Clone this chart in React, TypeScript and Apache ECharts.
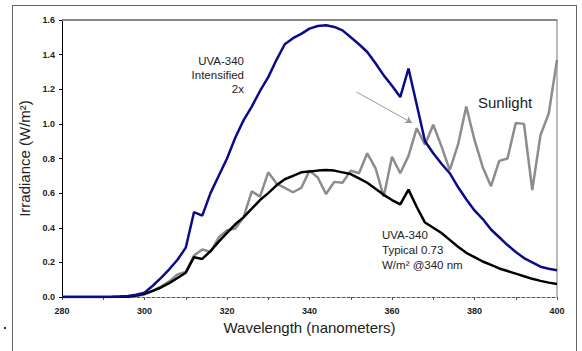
import React, { useEffect, useRef } from "react";
import * as echarts from "echarts";

const wavelengths = [
  280, 282, 284, 286, 288, 290, 292, 294, 296, 298, 300, 302, 304, 306, 308, 310,
  312, 314, 316, 318, 320, 322, 324, 326, 328, 330, 332, 334, 336, 338, 340, 342,
  344, 346, 348, 350, 352, 354, 356, 358, 360, 362, 364, 366, 368, 370, 372, 374,
  376, 378, 380, 382, 384, 386, 388, 390, 392, 394, 396, 398, 400,
];

const intensified = [
  0, 0, 0, 0, 0, 0, 0.001, 0.003, 0.006, 0.013, 0.025, 0.065, 0.11, 0.16, 0.215, 0.285,
  0.49, 0.47, 0.6, 0.7, 0.8, 0.92, 1.02, 1.1, 1.19, 1.27, 1.37, 1.46, 1.495, 1.52, 1.55, 1.565,
  1.57, 1.56, 1.54, 1.5, 1.46, 1.415, 1.35, 1.28, 1.22, 1.155, 1.32, 1.11, 0.9, 0.83, 0.77, 0.715,
  0.635, 0.565, 0.5, 0.45, 0.39, 0.345, 0.3, 0.26, 0.225, 0.2, 0.175, 0.163, 0.155,
];

const typical = [
  0, 0, 0, 0, 0, 0, 0, 0.001, 0.002, 0.008, 0.018, 0.035, 0.055, 0.08, 0.11, 0.14,
  0.23, 0.22, 0.265, 0.32, 0.37, 0.42, 0.46, 0.51, 0.56, 0.6, 0.645, 0.68, 0.7, 0.72, 0.725, 0.73,
  0.733, 0.73, 0.72, 0.71, 0.685, 0.66, 0.625, 0.59, 0.56, 0.535, 0.62, 0.52, 0.43, 0.4, 0.37, 0.33,
  0.29, 0.255, 0.23, 0.205, 0.185, 0.165, 0.15, 0.135, 0.12, 0.105, 0.093, 0.083, 0.075,
];

const sunlight = [
  null, null, null, null, null, null, null, null, 0, 0.005, 0.015, 0.035, 0.06, 0.09, 0.13, 0.145,
  0.24, 0.275, 0.26, 0.345, 0.385, 0.395, 0.46, 0.61, 0.58, 0.72, 0.655, 0.63, 0.605, 0.63, 0.73, 0.69,
  0.595, 0.665, 0.66, 0.73, 0.715, 0.83, 0.745, 0.58, 0.81, 0.715, 0.815, 0.975, 0.88, 0.995, 0.87, 0.733,
  0.88, 1.1, 0.907, 0.75, 0.64, 0.786, 0.8, 1.005, 1.0, 0.618, 0.935, 1.06, 1.37,
];

const arrowStart = [351.4, 1.184];
const arrowEnd = [364.9, 1.005];

const FONT = 'Arial, "Liberation Sans", sans-serif';
const TEXT = "#222";

function pairs(vals: (number | null)[]) {
  return wavelengths.map((w, i) => [w, vals[i]]);
}

function frameLine(x1: number, y1: number, x2: number, y2: number, stroke: string, w: number) {
  return {
    type: "line",
    shape: { x1, y1, x2, y2 },
    style: { stroke, lineWidth: w },
    silent: true,
    z: 100,
  };
}

export default function App() {
  const ref = useRef<HTMLDivElement>(null);
  useEffect(() => {
    if (!ref.current) return;
    const chart = echarts.init(ref.current, null, { renderer: "svg" });
    chart.setOption({
      animation: false,
      backgroundColor: "#fff",
      textStyle: { fontFamily: FONT },
      grid: { left: 62, right: 25, top: 20, bottom: 54 },
      xAxis: [
        {
          type: "value",
          min: 280,
          max: 400,
          interval: 10,
          name: "Wavelength (nanometers)",
          nameLocation: "middle",
          nameGap: 19,
          nameTextStyle: { fontSize: 15, color: TEXT, fontFamily: FONT },
          axisLine: { show: true, onZero: false, lineStyle: { color: "#555", type: [3, 2], width: 1 } },
          axisTick: { show: true, length: 3, lineStyle: { color: "#555" } },
          splitLine: { show: false },
          axisLabel: {
            margin: 9,
            fontSize: 9,
            fontWeight: "bold",
            color: TEXT,
            fontFamily: FONT,
            formatter: (v: number) => (v % 20 === 0 ? String(v) : ""),
          },
        },
        {
          type: "value",
          position: "top",
          min: 280,
          max: 400,
          interval: 10,
          axisLine: { show: true, onZero: false, lineStyle: { color: "#888", width: 1 } },
          axisTick: { show: false },
          axisLabel: { show: false },
          splitLine: { show: false },
        },
      ],
      yAxis: [
        {
          type: "value",
          min: 0,
          max: 1.6,
          interval: 0.2,
          name: "Irradiance (W/m²)",
          nameLocation: "middle",
          nameGap: 20,
          nameTextStyle: { fontSize: 15, color: TEXT, fontFamily: FONT },
          axisLine: { show: true, onZero: false, lineStyle: { color: "#000", width: 1 } },
          axisTick: { show: true, length: 3, lineStyle: { color: "#000" } },
          splitLine: { show: false },
          axisLabel: {
            margin: 7,
            fontSize: 9,
            fontWeight: "bold",
            color: TEXT,
            fontFamily: FONT,
            formatter: (v: number) => v.toFixed(1),
          },
        },
        {
          type: "value",
          position: "right",
          min: 0,
          max: 1.6,
          interval: 0.2,
          axisLine: { show: true, onZero: false, lineStyle: { color: "#bbb", width: 2 } },
          axisTick: { show: false },
          axisLabel: { show: false },
          splitLine: { show: false },
        },
      ],
      series: [
        {
          name: "Sunlight",
          type: "line",
          data: pairs(sunlight),
          showSymbol: false,
          symbol: "none",
          lineStyle: { color: "#8c8c8c", width: 2.5 },
          markLine: {
            silent: true,
            symbol: ["none", "arrow"],
            symbolSize: [6, 7],
            label: { show: false },
            lineStyle: { color: "#999", width: 1, type: "solid" },
            data: [[{ coord: arrowStart }, { coord: arrowEnd }]],
          },
        },
        {
          name: "UVA-340 Typical",
          type: "line",
          data: pairs(typical),
          showSymbol: false,
          symbol: "none",
          lineStyle: { color: "#000", width: 2.5 },
        },
        {
          name: "UVA-340 Intensified",
          type: "line",
          data: pairs(intensified),
          showSymbol: false,
          symbol: "none",
          lineStyle: { color: "#0a0a8a", width: 2.5 },
        },
      ],
      graphic: [
        frameLine(12.5, 5, 12.5, 351, "#666", 1),
        frameLine(12, 5.5, 577, 5.5, "#666", 1),
        frameLine(576.5, 5, 576.5, 351, "#666", 1),
        frameLine(62, 19.5, 557, 19.5, "#888", 1),
        {
          type: "rect",
          shape: { x: 4, y: 327, width: 2, height: 2 },
          style: { fill: "#333" },
          silent: true,
        },
        {
          type: "text",
          x: 244,
          y: 54,
          style: {
            text: "UVA-340\nIntensified\n2x",
            align: "right",
            verticalAlign: "top",
            fontSize: 11.5,
            lineHeight: 14,
            fill: TEXT,
            fontFamily: FONT,
          },
        },
        {
          type: "text",
          x: 478,
          y: 102,
          style: {
            text: "Sunlight",
            align: "left",
            verticalAlign: "middle",
            fontSize: 15,
            fill: TEXT,
            fontFamily: FONT,
          },
        },
        {
          type: "text",
          x: 382,
          y: 227,
          style: {
            text: "UVA-340\nTypical 0.73\nW/m² @340 nm",
            align: "left",
            verticalAlign: "top",
            fontSize: 11.5,
            lineHeight: 15,
            fill: TEXT,
            fontFamily: FONT,
          },
        },
      ],
    });
    return () => chart.dispose();
  }, []);
  return (
    <div
      ref={ref}
      style={{ position: "fixed", left: 0, top: 0, width: 582, height: 351 }}
    />
  );
}
